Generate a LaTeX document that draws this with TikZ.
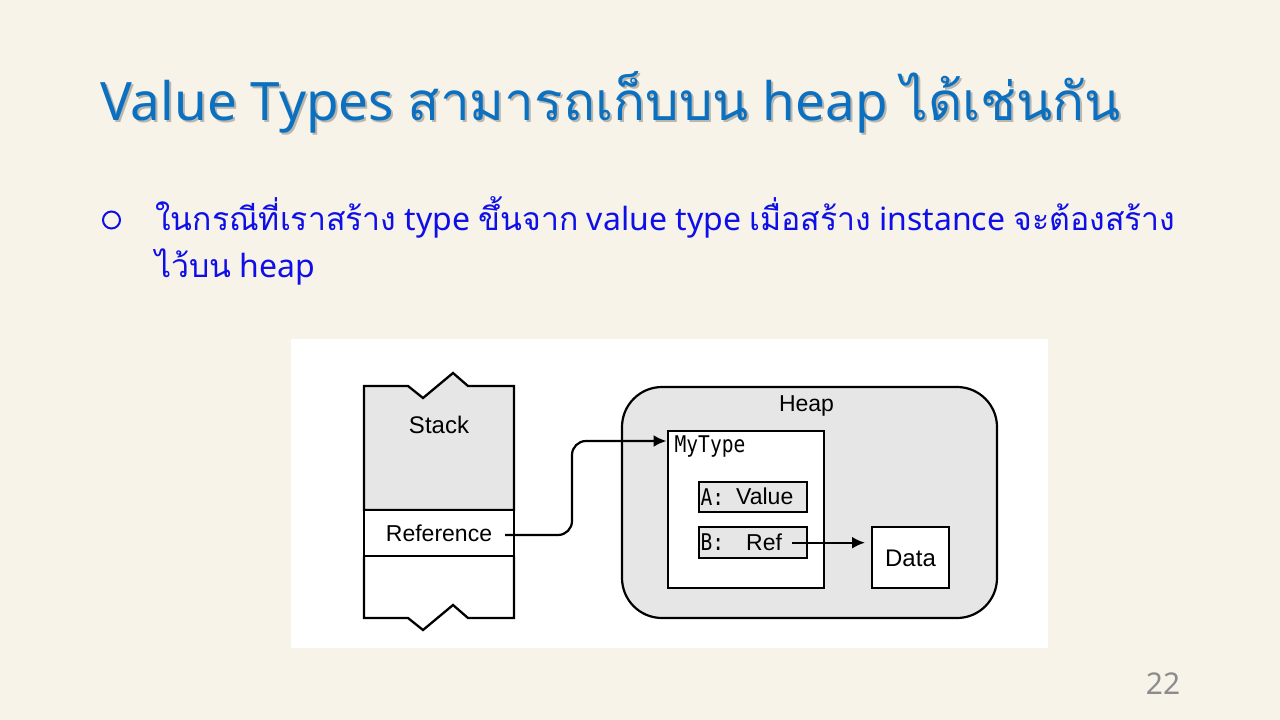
\documentclass[tikz,border=0pt]{standalone}
\usepackage{fontspec}
\usepackage{graphicx}
\setmainfont{Noto Sans}
\newfontfamily\thaifont[Script=Thai]{Loma}
\newfontfamily\diafont{Liberation Sans}
\newfontfamily\codefont{DejaVu Sans Mono}
\usetikzlibrary{arrows.meta,calc}

\definecolor{slidebg}{RGB}{247,243,233}
\definecolor{titleblue}{RGB}{12,112,192}
\definecolor{bodyblue}{RGB}{14,14,232}
\definecolor{cellgray}{RGB}{230,230,230}
\definecolor{pagegray}{RGB}{140,140,140}

\newcommand{\slidetitle}{\fontsize{53}{60}\selectfont Value Types {\thaifont สามารถเก็บบน} heap {\thaifont ได้เช่นกัน}}
% narrow monospaced lettering for code names
\newcommand{\narrowcode}[1]{\scalebox{0.85}[1]{#1}}

\tikzset{
  diatext/.style={inner sep=0pt, font=\diafont\fontsize{23}{26}\selectfont},
  codetext/.style={inner sep=0pt, font=\codefont\fontsize{23}{26}\selectfont},
  cellbox/.style={draw=black, line width=2pt, inner sep=0pt},
  stackline/.style={draw=black, line width=2.3pt, line join=miter},
  conn/.style={draw=black, line width=2.2pt, -{Latex[length=13pt,width=12pt]}},
  bodytext/.style={inner sep=0pt, anchor=base west, text=bodyblue, font=\fontsize{32}{36}\selectfont},
}

\begin{document}
\begin{tikzpicture}[x=1pt,y=-1pt]
  % slide background
  \fill[slidebg] (0,0) rectangle (1280,720);
  \useasboundingbox (0,0) rectangle (1280,720);

  % title with a soft shadow
  \node[inner sep=0pt, anchor=base west, text=black, opacity=0.25] at (102,122) {\slidetitle};
  \node[inner sep=0pt, anchor=base west, text=titleblue] (title) at (100,120) {\slidetitle};

  % bullet point
  \node[circle, draw=bodyblue, line width=2pt, minimum size=17pt, inner sep=0pt] (bullet) at (111.5,220) {};
  \node[bodytext] (line1) at (155,230) {{\thaifont ในกรณีที่เราสร้าง} type {\thaifont ขึ้นจาก} value type {\thaifont เมื่อสร้าง} instance {\thaifont จะต้องสร้าง}};
  \node[bodytext] (line2) at (155,277) {{\thaifont ไว้บน} heap};

  % white panel behind the figure
  \node[fill=white, minimum width=757pt, minimum height=309pt, inner sep=0pt] (panel) at (669.5,493.5) {};

  % stack column
  \path[stackline, fill=cellgray] (364,510) -- (364,386) -- (408,386) -- (423,398) -- (453,373)
        -- (468,386) -- (514,386) -- (514,510) -- cycle;
  \node[cellbox, line width=2.3pt, fill=white, minimum width=150pt, minimum height=46pt] (refcell) at (439,533) {};
  \path[stackline] (364,556) -- (364,618) -- (408,618) -- (423,630) -- (453,605)
        -- (468,618) -- (514,618) -- (514,556);
  \node[diatext, font=\diafont\fontsize{24}{26}\selectfont] (stacklabel) at (439,425) {Stack};
  \node[diatext] (reflabel) at (439,533) {Reference};
  \coordinate (refout) at (505,535);

  % heap region
  \node[draw=black, line width=2.2pt, fill=cellgray, rounded corners=40pt,
        minimum width=375pt, minimum height=231pt, inner sep=0pt] (heap) at (809.5,502.5) {};
  \node[diatext] (heaplabel) at (806.5,406) {Heap};

  % MyType instance
  \node[cellbox, fill=white, minimum width=156pt, minimum height=157pt] (mytype) at (745.5,509.5) {};
  \node[codetext, anchor=west] (mytypelabel) at (674.5,447) {\narrowcode{MyType}};

  \node[cellbox, fill=cellgray, minimum width=108pt, minimum height=30pt] (aval) at (752.5,496.7) {};
  \node[codetext, anchor=west] (alabel) at (700.5,496.7) {\narrowcode{A:}};
  \node[diatext, anchor=west] (avalue) at (736,496.7) {Value};

  \node[cellbox, fill=cellgray, minimum width=108pt, minimum height=31pt] (bref) at (752.5,542.5) {};
  \node[codetext, anchor=west] (blabel) at (700.5,542) {\narrowcode{B:}};
  \node[diatext, anchor=west] (bvalue) at (746,542) {Ref};
  \coordinate (brefout) at (791.5,542.7);

  \node[cellbox, fill=white, minimum width=77pt, minimum height=61pt] (data) at (910.5,557.5) {};
  \node[diatext, font=\diafont\fontsize{24}{26}\selectfont] (datalabel) at (910.5,558) {Data};

  % references
  \draw[conn, rounded corners=14pt] (refout) -- ++(67,0) |- ([yshift=-11pt]mytype.north west);
  \draw[conn, shorten >=6pt] (brefout) -- (data.west |- brefout);

  % slide number
  \node[inner sep=0pt, text=pagegray, font=\fontsize{30}{32}\selectfont] (pagenum) at (1163,684) {22};
\end{tikzpicture}
\end{document}
